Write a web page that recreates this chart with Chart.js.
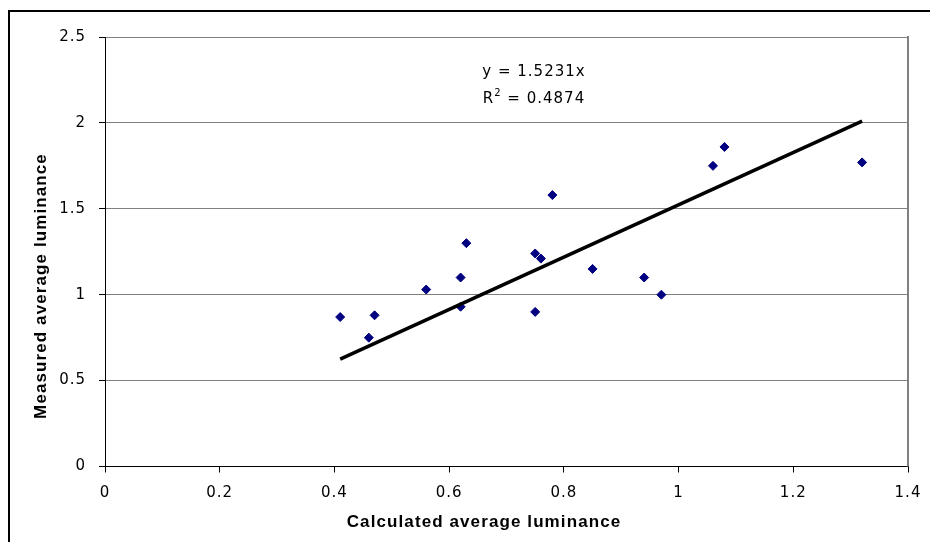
<!DOCTYPE html>
<html>
<head>
<meta charset="utf-8">
<script src="https://cdn.jsdelivr.net/npm/chart.js@4.4.1/dist/chart.umd.min.js"></script>
<style>
  html, body { margin: 0; padding: 0; background: #fff; }
  #wrap { position: relative; width: 930px; height: 542px; }
</style>
</head>
<body>
<div id="wrap"><canvas id="c"></canvas></div>
<script>
// Calculated vs. measured average luminance, one value pair per scene
const calculated = [0.41, 0.46, 0.47, 0.56, 0.62, 0.62, 0.63, 0.75, 0.76, 0.75, 0.78, 0.85, 0.94, 0.97, 1.06, 1.08, 1.32];
const measured   = [0.87, 0.75, 0.88, 1.03, 1.10, 0.93, 1.30, 1.24, 1.21, 0.90, 1.58, 1.15, 1.10, 1.00, 1.75, 1.86, 1.77];

// Linear fit through the origin
const slope = 1.5231;
const rSquared = 0.4874;

const xTickValues = [0, 0.2, 0.4, 0.6, 0.8, 1, 1.2, 1.4];
const yTickValues = [0, 0.5, 1, 1.5, 2, 2.5];

const xTitle = 'Calculated average luminance';
const yTitle = 'Measured average luminance';
const equationText = 'y = ' + slope + 'x';
const r2Base = 'R';
const r2Exp = '2';
const r2Rest = ' = ' + rSquared;

const points = calculated.map((x, i) => ({ x: x, y: measured[i] }));
const xMin = Math.min(...calculated);
const xMax = Math.max(...calculated);
const trend = [{ x: xMin, y: slope * xMin }, { x: xMax, y: slope * xMax }];

const tickFont = { family: 'DejaVu Sans', size: 15 };

const decorations = {
  id: 'decorations',
  beforeDraw(chart) {
    chart.ctx.letterSpacing = '1px';
  },
  afterDraw(chart) {
    const { ctx, chartArea: a } = chart;
    ctx.save();
    // right edge of the plot area
    ctx.strokeStyle = '#808080';
    ctx.lineWidth = 2;
    ctx.beginPath();
    ctx.moveTo(a.right, a.top - 1);
    ctx.lineTo(a.right, a.bottom);
    ctx.stroke();

    // outer chart frame
    ctx.strokeStyle = '#000';
    ctx.lineWidth = 2;
    ctx.strokeRect(9, 11, 1000, 1000);

    // trendline equation
    ctx.fillStyle = '#000';
    ctx.letterSpacing = '1px';
    ctx.textBaseline = 'alphabetic';
    ctx.font = '15px "DejaVu Sans"';
    ctx.textAlign = 'center';
    ctx.fillText(equationText, 534, 76);

    // R² line with a raised exponent
    ctx.textAlign = 'left';
    const wBase = ctx.measureText(r2Base).width;
    const wRest = ctx.measureText(r2Rest).width;
    ctx.font = '10px "DejaVu Sans"';
    const wExp = ctx.measureText(r2Exp).width;
    let x = 534 - (wBase + wExp + wRest) / 2;
    ctx.font = '15px "DejaVu Sans"';
    ctx.fillText(r2Base, x, 103);
    x += wBase;
    ctx.font = '10px "DejaVu Sans"';
    ctx.fillText(r2Exp, x, 96);
    x += wExp;
    ctx.font = '15px "DejaVu Sans"';
    ctx.fillText(r2Rest, x, 103);

    // axis titles
    ctx.textAlign = 'center';
    ctx.font = 'bold 17px "Liberation Sans"';
    ctx.letterSpacing = '1.1px';
    ctx.fillText(xTitle, 484, 527);
    ctx.translate(46, 286);
    ctx.rotate(-Math.PI / 2);
    ctx.fillText(yTitle, 0, 0);
    ctx.restore();
  }
};

new Chart(document.getElementById('c'), {
  type: 'scatter',
  data: {
    datasets: [
      {
        label: 'Linear fit',
        data: trend,
        showLine: true,
        borderColor: '#000',
        borderWidth: 3.5,
        pointRadius: 0,
        order: 0
      },
      {
        label: 'Luminance',
        data: points,
        pointStyle: 'rectRot',
        pointRadius: 4.5,
        backgroundColor: '#000080',
        borderColor: '#000080',
        borderWidth: 1,
        order: 1
      }
    ]
  },
  options: {
    responsive: true,
    maintainAspectRatio: false,
    animation: false,
    layout: { padding: { top: 37, right: 22, left: 0, bottom: 0 } },
    plugins: {
      legend: { display: false },
      tooltip: { enabled: false }
    },
    scales: {
      x: {
        type: 'linear',
        min: 0,
        max: 1.4,
        afterBuildTicks: s => { s.ticks = xTickValues.map(v => ({ value: v })); },
        afterFit: s => { s.height = 75.5; s.paddingLeft = 0; s.paddingRight = 0; },
        ticks: { font: tickFont, color: '#000', padding: 12, maxRotation: 0, callback: v => String(v) },
        grid: { drawOnChartArea: false, tickLength: 6, tickColor: '#000', tickWidth: 1 },
        border: { color: '#000', width: 1 }
      },
      y: {
        type: 'linear',
        min: 0,
        max: 2.5,
        afterBuildTicks: s => { s.ticks = yTickValues.map(v => ({ value: v })); },
        afterFit: s => { s.width = 105; s.paddingTop = 0; s.paddingBottom = 0; },
        ticks: { font: tickFont, color: '#000', padding: 13, callback: v => String(v) },
        grid: { color: '#808080', lineWidth: 1, tickLength: 6, tickColor: '#000', tickWidth: 1 },
        border: { color: '#000', width: 1 }
      }
    }
  },
  plugins: [decorations]
});
</script>
</body>
</html>
